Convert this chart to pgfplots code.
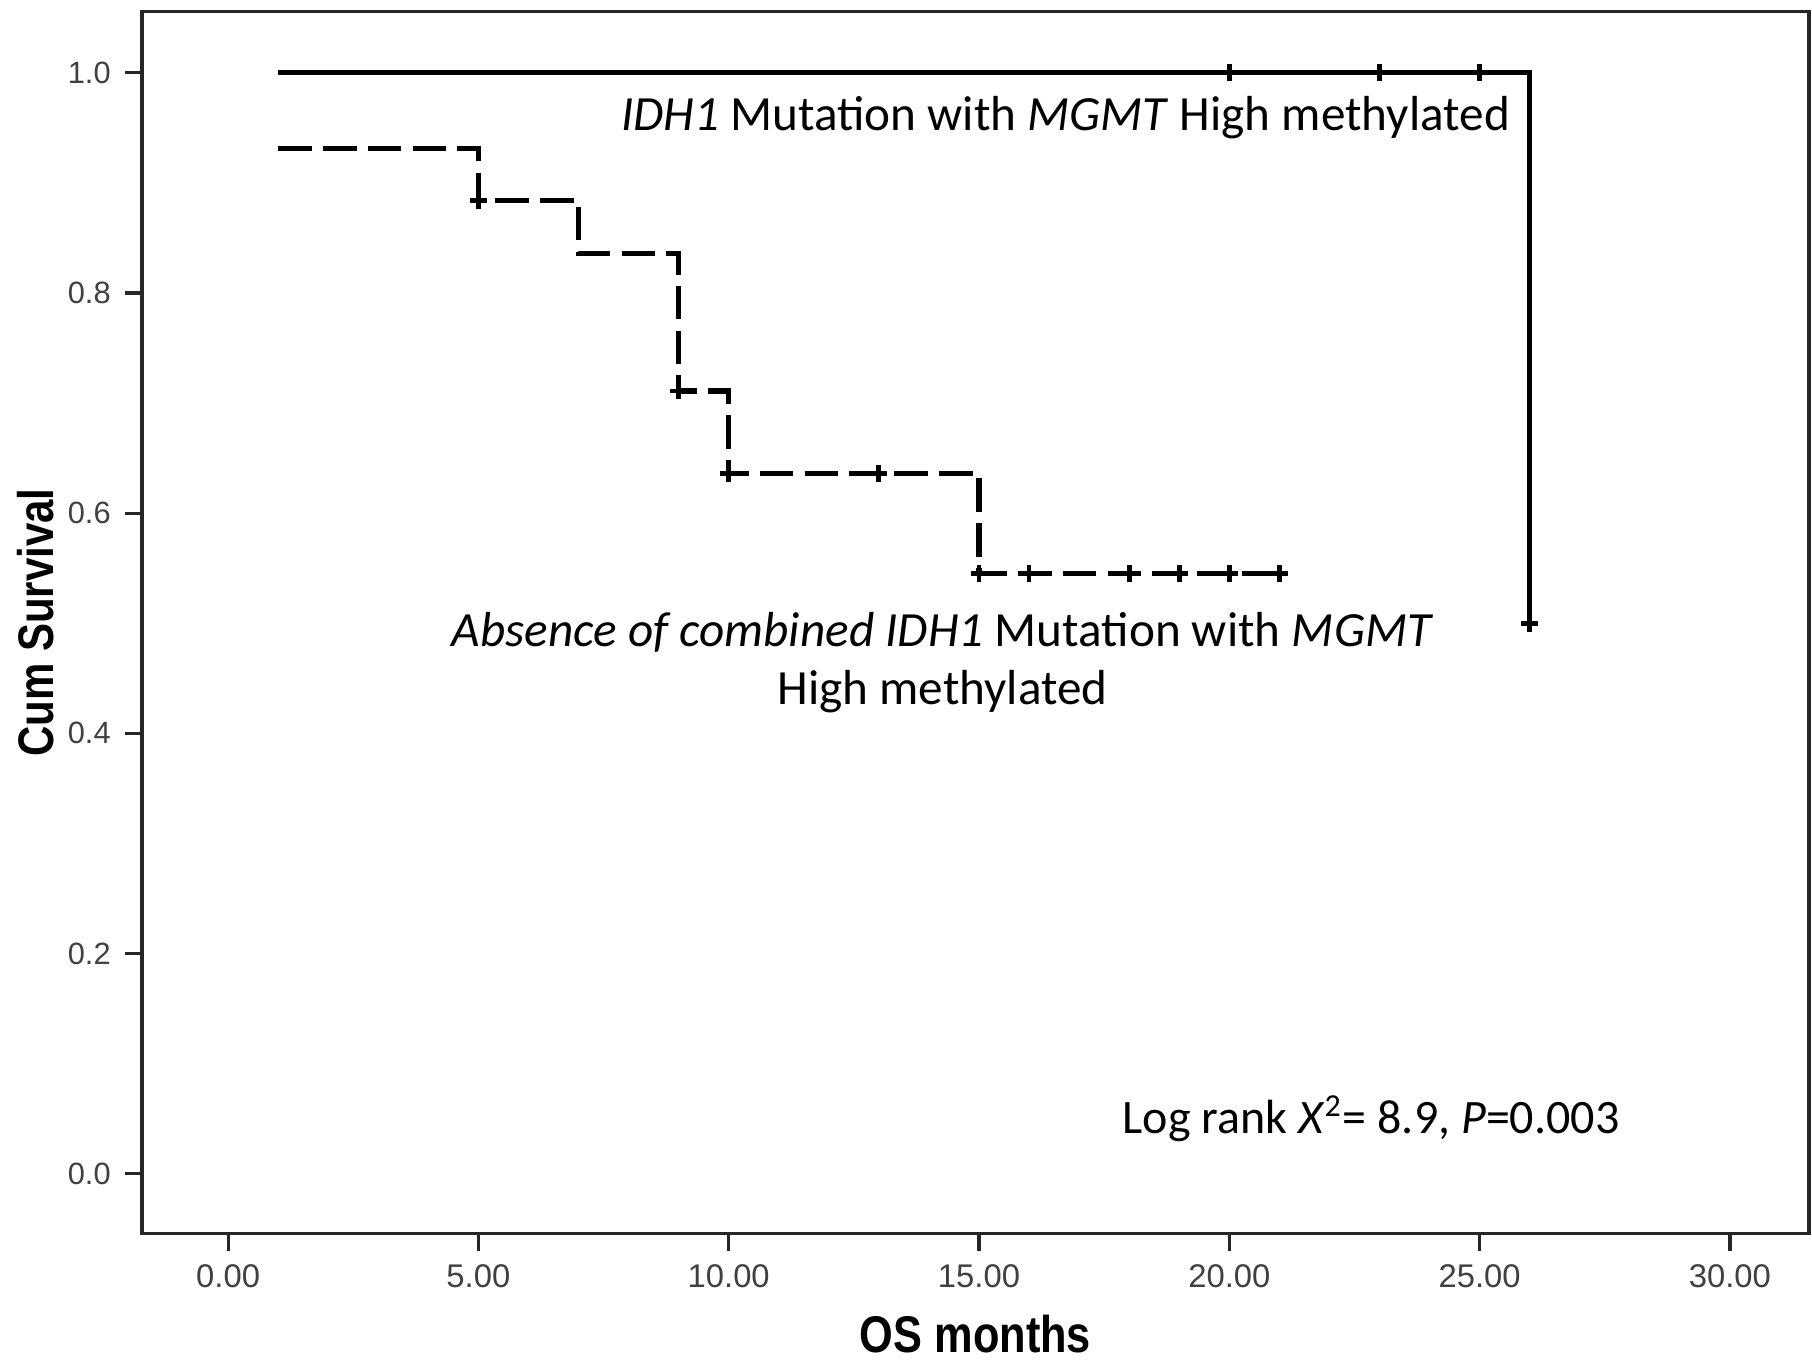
\documentclass[border=0pt]{standalone}
\usepackage{pgfplots}
\pgfplotsset{compat=1.18}
\usepackage{fontspec}
\setmainfont{Liberation Sans}
\newfontfamily\carlito{Carlito}
\newfontfamily\labelfont{Liberation Sans}[FakeStretch=0.84]

\begin{document}
\begin{tikzpicture}
\begin{axis}[
  name=ax,
  scale only axis, width=416.75pt, height=305.5pt,
  xmin=-1.72, xmax=31.58, ymin=-0.0545, ymax=1.0556,
  xtick={0,5,10,15,20,25,30}, ytick={0,0.2,0.4,0.6,0.8,1},
  tick pos=left, tick align=outside, major tick length=4.3pt,
  axis line style={black!85, line width=0.9pt},
  every tick/.style={black!85, line width=0.8pt},
  ticklabel style={text=black!75},
  /pgf/number format/assume math mode=true,
  xticklabel style={font=\fontsize{8.2}{9.5}\selectfont, /pgf/number format/fixed, /pgf/number format/fixed zerofill, /pgf/number format/precision=2},
  yticklabel style={font=\fontsize{7.7}{9}\selectfont, /pgf/number format/fixed, /pgf/number format/fixed zerofill, /pgf/number format/precision=1},
  xlabel={OS months}, ylabel={Cum Survival},
  xlabel style={font=\labelfont\bfseries\fontsize{12.9}{14}\selectfont, at={(axis description cs:0.5,-0.0825)}, anchor=center, inner sep=0pt},
  ylabel style={font=\labelfont\bfseries\fontsize{12.5}{14}\selectfont, at={(axis description cs:-0.0636,0.5)}, anchor=center, inner sep=0pt},
  clip=false,
]
% IDH1 mutation with MGMT high methylated (solid)
\addplot[const plot, black, line width=1.3pt] coordinates {(1,1) (26,0.5)};
\addplot[only marks, mark=+, mark size=2.1pt, black, mark options={line width=1.2pt}] coordinates {(20,1) (23,1) (25,1) (26,0.5)};
% Absence of combined (dashed)
\addplot[const plot, black, line width=1.3pt, dash pattern=on 8.4pt off 2.8pt] coordinates {
 (1,0.931) (5,0.884) (7,0.836) (9,0.711) (10,0.636) (15,0.545) (21,0.545)};
\addplot[only marks, mark=+, mark size=2.1pt, black, mark options={line width=1.2pt}] coordinates {
 (5,0.884) (9,0.711) (10,0.636) (13,0.636) (15,0.545) (16,0.545) (18,0.545) (19,0.545) (20,0.545) (21,0.545)};

\node[font=\carlito\fontsize{12.3}{14.5}\selectfont, anchor=east, inner sep=0pt] at (axis cs:25.62,0.959)
  {\textit{IDH1} Mutation with \textit{MGMT} High methylated};
\node[font=\carlito\fontsize{12.3}{14.5}\selectfont, align=center, inner sep=0pt] at (axis cs:14.27,0.464)
  {\textit{Absence of combined IDH1} Mutation with \textit{MGMT}\\High methylated};
\node[font=\carlito\fontsize{12}{14.5}\selectfont, inner sep=0pt] at (axis cs:22.83,0.05)
  {Log rank \textit{X}\textsuperscript{2}= 8.9, \textit{P}=0.003};
\end{axis}
\path (ax.south west) ++(-35.5pt,-31.75pt) coordinate (bl);
\path (ax.north east) ++(0.75pt,2.9pt) coordinate (tr);
\path[draw=none] (bl) rectangle (tr);
\end{tikzpicture}
\end{document}
